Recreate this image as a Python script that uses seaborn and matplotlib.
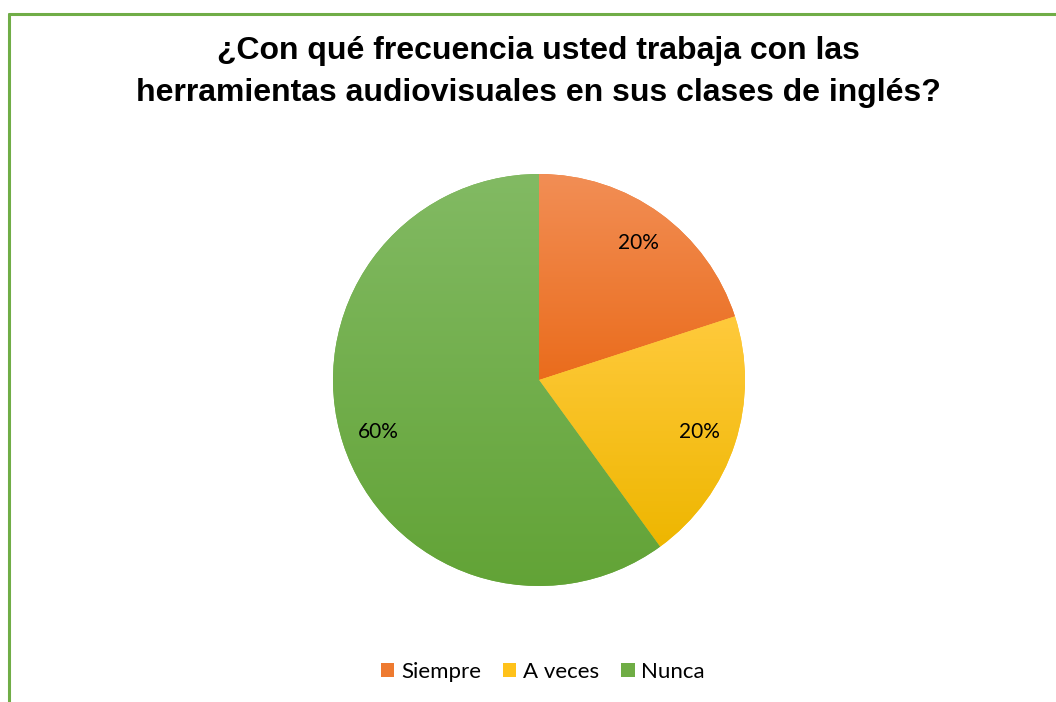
import matplotlib
matplotlib.use('Agg')
import matplotlib.pyplot as plt
import seaborn as sns
import numpy as np
from matplotlib.lines import Line2D
from matplotlib.patches import Patch
from matplotlib.colors import LinearSegmentedColormap

sns.set_theme(style='white')
plt.rcParams['font.family'] = ['Lato', 'DejaVu Sans']

# Datos
categorias = ['Siempre', 'A veces', 'Nunca']
porcentajes = [20, 20, 60]
colores = ['#EE7A30', '#FFC21A', '#6FAD45']
# degradado (arriba claro -> abajo oscuro) de cada porción
colores_arriba = ['#F28E55', '#FFCA3C', '#82BA63']
colores_abajo = ['#EA6C1C', '#EEB600', '#62A336']
titulo = '¿Con qué frecuencia usted trabaja con las\nherramientas audiovisuales en sus clases de inglés?'

fig = plt.figure(figsize=(10.56, 7.02), dpi=100)
fig.patch.set_facecolor('white')

# Borde verde (solo arriba e izquierda visibles)
fig.add_artist(Line2D([9 / 1056, 1.0], [1 - 14 / 702, 1 - 14 / 702], color='#70AD47', lw=2.2,
                      transform=fig.transFigure))
fig.add_artist(Line2D([9 / 1056, 9 / 1056], [0, 1 - 14 / 702], color='#70AD47', lw=2.2,
                      transform=fig.transFigure))

# Ejes del pastel: centro (539, 380), radio ~206 px
r = 206
cx, cy = 539, 380
ax = fig.add_axes([(cx - r) / 1056, 1 - (cy + r) / 702, 2 * r / 1056, 2 * r / 702])
wedges, texts, autotexts = ax.pie(porcentajes, colors=colores, startangle=90, counterclock=False,
                                  autopct='%1.0f%%', pctdistance=0.82,
                                  wedgeprops={'linewidth': 0},
                                  textprops={'fontsize': 15, 'color': 'black'})

# degradado vertical recortado a cada porción
grad = np.linspace(0, 1, 256).reshape(-1, 1)
for w, c1, c2 in zip(wedges, colores_arriba, colores_abajo):
    verts = w.get_path().vertices
    x0, x1 = verts[:, 0].min(), verts[:, 0].max()
    y0, y1 = verts[:, 1].min(), verts[:, 1].max()
    cmap = LinearSegmentedColormap.from_list('g', [c1, c2])
    im = ax.imshow(grad, cmap=cmap, extent=[x0, x1, y0, y1], origin='upper', aspect='auto',
                   zorder=w.get_zorder() + 0.1, interpolation='bilinear')
    im.set_clip_path(w)
for t in autotexts:
    t.set_zorder(5)
ax.set_xlim(-1, 1)
ax.set_ylim(-1, 1)
ax.set_aspect('equal')

fig.text(538 / 1056, 1 - 72 / 702, titulo, ha='center', va='center', fontsize=23, fontweight='bold',
         color='black', family=['Liberation Sans', 'DejaVu Sans'], linespacing=1.55)

handles = [Patch(facecolor=c, edgecolor='none') for c in colores]
leg = fig.legend(handles, categorias, loc='center', bbox_to_anchor=(543 / 1056, 1 - 672 / 702), ncol=3,
                 frameon=False, fontsize=16, handlelength=0.6, handleheight=0.6, handletextpad=0.3,
                 columnspacing=1.0)
for t in leg.get_texts():
    t.set_color('black')

fig.savefig('out.png', dpi=100)
